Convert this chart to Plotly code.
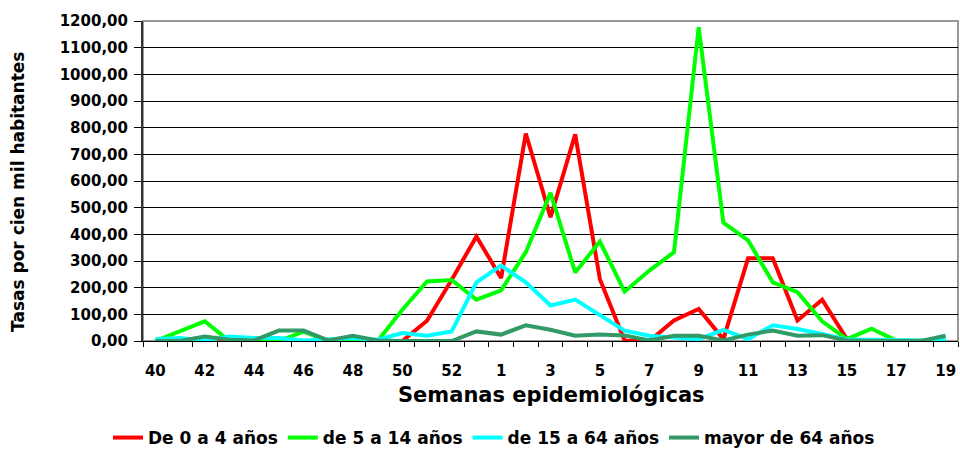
import plotly.graph_objects as go

weeks = [40, 41, 42, 43, 44, 45, 46, 47, 48, 49, 50, 51, 52, 53,
         1, 2, 3, 4, 5, 6, 7, 8, 9, 10, 11, 12, 13, 14, 15, 16, 17, 18, 19]

age_0_4 = [0, 0, 0, 0, 0, 0, 0, 0, 0, 0, 0, 76, 230, 392,
           236, 778, 464, 775, 232, 2, 0, 77, 120, 7, 310, 310, 77, 155, 7, 0, 0, 0, 0]
age_5_14 = [0, 37, 74, 0, 0, 0, 35, 0, 5, 0, 117, 223, 229, 155,
            190, 333, 556, 257, 373, 185, 264, 333, 1177, 444, 377, 220, 183, 74, 7, 46, 2, 0, 0]
age_15_64 = [7, 11, 2, 17, 11, 11, 2, 7, 11, 5, 30, 20, 36, 220,
             283, 220, 133, 155, 95, 39, 20, 12, 7, 42, 7, 59, 45, 26, 5, 5, 2, 2, 5]
age_65p = [0, 0, 17, 5, 2, 39, 39, 2, 20, 2, 0, 0, 0, 36,
           24, 59, 42, 20, 24, 21, 2, 20, 20, 2, 24, 39, 20, 22, 2, 0, 0, 0, 20]

series_names = ["De 0 a 4 años", "de 5 a 14 años", "de 15 a 64 años", "mayor de 64 años"]
series_values = [age_0_4, age_5_14, age_15_64, age_65p]
series_colors = ["#FF0000", "#00FF00", "#00FFFF", "#339966"]

y_ticks = list(range(0, 1201, 100))
y_ticktext = [f"{v:.2f}".replace(".", ",") for v in y_ticks]

xpos = list(range(len(weeks)))
x_tickvals = xpos[::2]
x_ticktext = [str(w) for w in weeks[::2]]

FONT = "DejaVu Sans"

fig = go.Figure()
for name, vals, col in zip(series_names, series_values, series_colors):
    fig.add_trace(go.Scatter(x=xpos, y=vals, mode="lines", name=name,
                             line=dict(color=col, width=4)))

W, H = 960, 449
L, R, T, B = 143, 2, 21, 108
pw, ph = W - L - R, H - T - B

def px(x):
    return (x - L) / pw

def py(y):
    return (H - B - y) / ph

fig.update_layout(
    width=W, height=H,
    margin=dict(l=L, r=R, t=T, b=B, pad=0, autoexpand=False),
    paper_bgcolor="white", plot_bgcolor="white",
    font=dict(family=FONT, size=15, color="black", weight="bold"),
    showlegend=True,
    legend=dict(orientation="h", x=px(494), y=py(438), xanchor="center", yanchor="middle",
                font=dict(family=FONT, size=17, color="black", weight="bold"),
                itemwidth=30, tracegroupgap=0, bgcolor="rgba(0,0,0,0)"),
    xaxis=dict(range=[-0.5, len(weeks) - 0.5], tickmode="array", tickvals=x_tickvals,
               ticktext=x_ticktext, ticks="", showgrid=False, zeroline=False,
               showline=True, linecolor="black", linewidth=1,
               ticklabelstandoff=16,
               minor=dict(tickmode="linear", tick0=-0.5, dtick=1, ticks="outside",
                          ticklen=5, tickcolor="black", tickwidth=1, showgrid=False),
               tickfont=dict(family=FONT, size=15, color="black", weight="bold")),
    yaxis=dict(range=[0, 1200], tickmode="array", tickvals=y_ticks, ticktext=y_ticktext,
               ticks="outside", ticklen=7, tickcolor="black", tickwidth=1,
               showgrid=True, gridcolor="black", gridwidth=1, zeroline=False,
               showline=True, linecolor="#333333", linewidth=2,
               ticklabelstandoff=3,
               tickfont=dict(family=FONT, size=15, color="black", weight="bold")),
    shapes=[dict(type="rect", xref="paper", yref="paper", x0=0, x1=1, y0=0, y1=1,
                 line=dict(color="#999999", width=2), layer="between")],
    annotations=[
        dict(text="Tasas por cien mil habitantes", xref="paper", yref="paper",
             x=px(18), y=py(192), xanchor="center", yanchor="middle", textangle=-90,
             showarrow=False, font=dict(family=FONT, size=17, color="black", weight="bold")),
        dict(text="Semanas epidemiológicas", xref="paper", yref="paper",
             x=px(551), y=py(395), xanchor="center", yanchor="middle",
             showarrow=False, font=dict(family=FONT, size=21, color="black", weight="bold")),
    ],
)

fig.write_html("out.html", config={"displayModeBar": False},
               post_script="document.body.style.margin='0';")
